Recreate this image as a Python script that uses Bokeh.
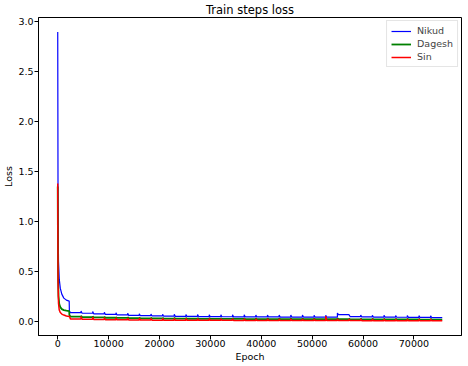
from bokeh.plotting import figure
from bokeh.models import Range1d, FixedTicker, PrintfTickFormatter, BasicTickFormatter, Legend, LegendItem
from bokeh.embed import file_html
from bokeh.resources import INLINE

# ---- data ----
epoch_len = 2290
n_epochs = 33
settle = 200

# first epoch: detailed decay
first_steps = [0, 60, 150, 300, 500, 800, 1200, 1700, 2250]
nikud_first = [2.9, 1.2, 0.6, 0.42, 0.33, 0.27, 0.23, 0.21, 0.20]
dagesh_first = [1.35, 0.5, 0.25, 0.17, 0.14, 0.12, 0.11, 0.105, 0.10]
sin_first = [1.38, 0.4, 0.18, 0.11, 0.085, 0.07, 0.06, 0.05, 0.045]

# epochs 1..32: value at the epoch start (spike) and settled value
nikud_spike = [0.10, 0.10, 0.095, 0.088, 0.083, 0.078, 0.074, 0.071, 0.069, 0.067, 0.066,
               0.065, 0.064, 0.063, 0.062, 0.062, 0.061, 0.061, 0.060, 0.060, 0.060, 0.059,
               0.059, 0.080, 0.062, 0.060, 0.058, 0.057, 0.056, 0.055, 0.054, 0.053]
nikud_floor = [0.085, 0.078, 0.072, 0.066, 0.061, 0.057, 0.054, 0.051, 0.049, 0.047, 0.046,
               0.045, 0.044, 0.043, 0.042, 0.042, 0.041, 0.041, 0.040, 0.040, 0.040, 0.039,
               0.039, 0.064, 0.045, 0.042, 0.040, 0.039, 0.038, 0.037, 0.036, 0.035]
dagesh_spike = [0.06, 0.052, 0.047, 0.043, 0.040, 0.038, 0.036, 0.035, 0.034, 0.033, 0.032,
                0.031, 0.031, 0.030, 0.030, 0.029, 0.029, 0.028, 0.028, 0.028, 0.027, 0.027,
                0.027, 0.028, 0.026, 0.026, 0.026, 0.025, 0.025, 0.025, 0.024, 0.024]
dagesh_floor = [0.045, 0.040, 0.036, 0.033, 0.031, 0.029, 0.027, 0.026, 0.025, 0.024, 0.023,
                0.022, 0.022, 0.021, 0.021, 0.020, 0.020, 0.019, 0.019, 0.019, 0.018, 0.018,
                0.018, 0.018, 0.017, 0.017, 0.017, 0.016, 0.016, 0.016, 0.015, 0.015]
sin_spike = [0.05, 0.045, 0.04, 0.036, 0.033, 0.03, 0.03, 0.028, 0.027, 0.026, 0.026,
             0.025, 0.025, 0.024, 0.024, 0.023, 0.023, 0.023, 0.022, 0.022, 0.022, 0.022,
             0.05, 0.022, 0.021, 0.021, 0.021, 0.020, 0.020, 0.020, 0.020, 0.020]
sin_floor = [0.020, 0.017, 0.015, 0.013, 0.012, 0.011, 0.010, 0.009, 0.009, 0.008, 0.008,
             0.007, 0.007, 0.007, 0.006, 0.006, 0.006, 0.006, 0.005, 0.005, 0.005, 0.005,
             0.005, 0.005, 0.005, 0.004, 0.004, 0.004, 0.004, 0.004, 0.004, 0.004]

x_ticks = [0, 10000, 20000, 30000, 40000, 50000, 60000, 70000]
y_ticks = [0.0, 0.5, 1.0, 1.5, 2.0, 2.5, 3.0]


def build(first, spikes, floors):
    xs = list(first_steps)
    ys = list(first)
    for k in range(1, n_epochs):
        start = k * epoch_len
        xs += [start, start + settle, start + epoch_len - 1]
        ys += [spikes[k - 1], floors[k - 1], floors[k - 1]]
    return xs, ys


nx, ny = build(nikud_first, nikud_spike, nikud_floor)
dx, dy = build(dagesh_first, dagesh_spike, dagesh_floor)
sx, sy = build(sin_first, sin_spike, sin_floor)

FONT = "DejaVu Sans"

p = figure(frame_width=423, frame_height=318, output_backend="svg", toolbar_location=None,
           x_range=Range1d(-3780, 79350), y_range=Range1d(-0.145, 3.045),
           min_border_left=0, min_border_right=1, min_border_top=0, min_border_bottom=0)

p.title.text = "Train steps loss"
p.title.align = "center"
p.title.text_font = FONT
p.title.text_font_style = "normal"
p.title.text_font_size = "11.5px"
p.title.text_color = "black"
p.title.standoff = 1
p.title.offset = 0

p.xgrid.visible = False
p.ygrid.visible = False
p.outline_line_color = "black"
p.outline_line_alpha = 1
p.outline_line_width = 1

for ax in (p.xaxis[0], p.yaxis[0]):
    ax.major_tick_in = 0
    ax.major_tick_out = 4
    ax.minor_tick_in = 0
    ax.minor_tick_out = 0
    ax.major_label_text_font = FONT
    ax.major_label_text_font_size = "9.5px"
    ax.major_label_text_color = "black"
    ax.axis_label_text_font = FONT
    ax.axis_label_text_font_size = "9.5px"
    ax.axis_label_text_font_style = "normal"
    ax.axis_label_text_color = "black"
    ax.axis_line_color = "black"
    ax.major_tick_line_color = "black"
    ax.major_label_standoff = 1
    ax.axis_label_standoff = 1

p.xaxis[0].major_label_standoff = 0
p.xaxis[0].ticker = FixedTicker(ticks=x_ticks)
p.xaxis[0].formatter = BasicTickFormatter(use_scientific=False)
p.xaxis[0].axis_label = "Epoch"
p.yaxis[0].ticker = FixedTicker(ticks=y_ticks)
p.yaxis[0].formatter = PrintfTickFormatter(format="%.1f")
p.yaxis[0].axis_label = "Loss"

r1 = p.line(nx, ny, line_color="#0000ff", line_width=1.2)
r2 = p.line(dx, dy, line_color="#008000", line_width=1.8)
r3 = p.line(sx, sy, line_color="#ff0000", line_width=1.5)

legend = Legend(items=[LegendItem(label="Nikud", renderers=[r1]),
                       LegendItem(label="Dagesh", renderers=[r2]),
                       LegendItem(label="Sin", renderers=[r3])],
                location="top_right")
legend.label_text_font = FONT
legend.label_text_font_size = "9.5px"
legend.glyph_width = 20
legend.glyph_height = 10
legend.label_height = 10
legend.spacing = 2
legend.padding = 4
legend.margin = 3
legend.label_standoff = 6
legend.border_line_color = "#cccccc"
legend.border_line_width = 1
legend.background_fill_alpha = 0.8
p.add_layout(legend)

open("out.html", "w").write(file_html(p, INLINE))
